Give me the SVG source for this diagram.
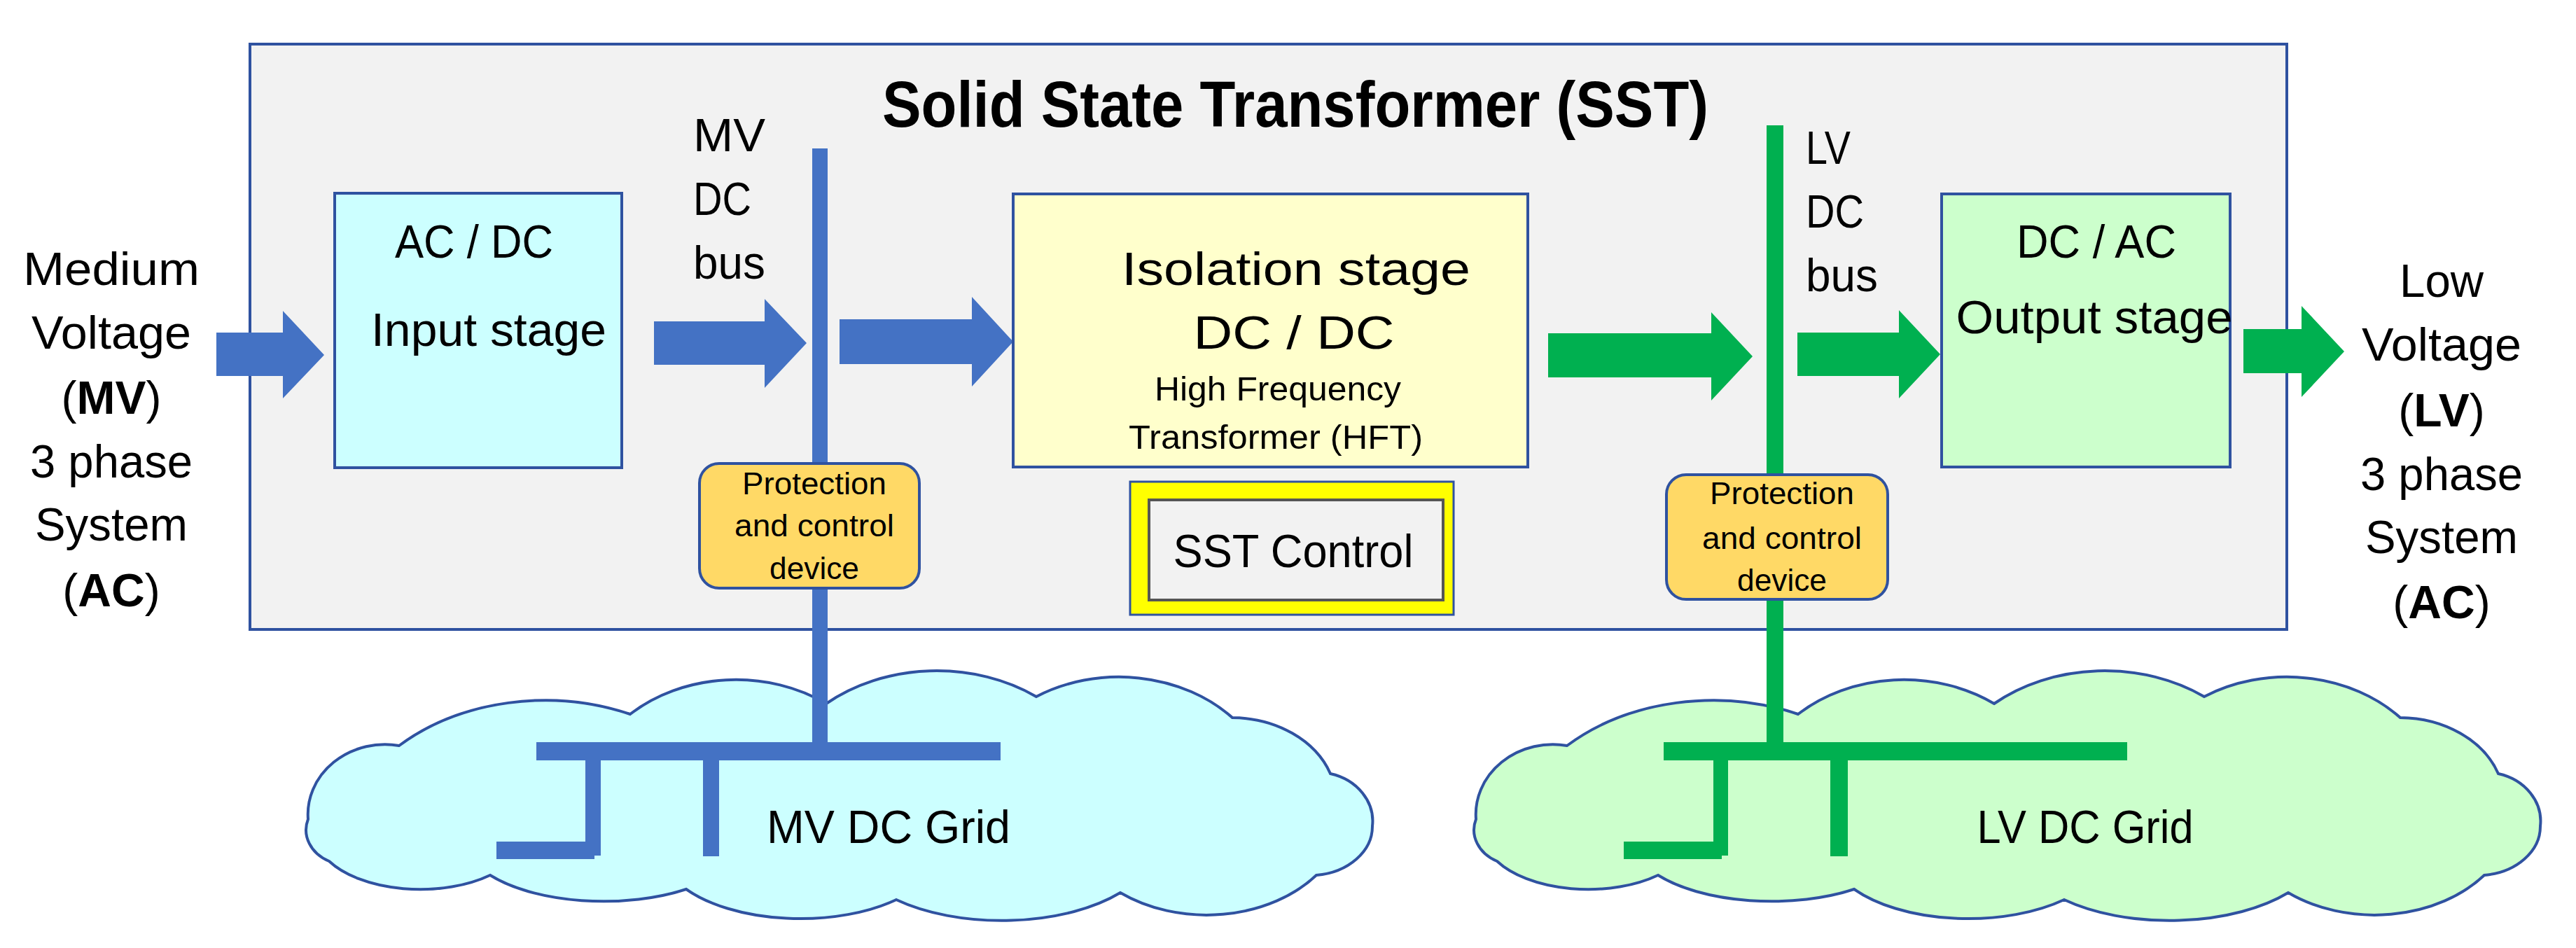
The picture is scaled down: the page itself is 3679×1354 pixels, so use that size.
<svg xmlns="http://www.w3.org/2000/svg" width="3679" height="1354" viewBox="0 0 3679 1354">
<style>
text{font-family:"Liberation Sans",Arial,sans-serif;fill:#000}
.m{font-size:66px;text-anchor:middle}
.s{font-size:48px;text-anchor:middle}
.p{font-size:44px;text-anchor:middle}
.box{stroke:#2f52a0;stroke-width:4}
.b{fill:#4472c4}
.g{fill:#00b050}
</style>
<defs>
<path id="cloud" d="M440,1170 A110,100 0 0 1 570,1065 A300,230 0 0 1 900,1020 A220,180 0 0 1 1180,1005 A240,190 0 0 1 1480,995 A220,180 0 0 1 1760,1025 A150,120 0 0 1 1900,1105 A80,70 0 0 1 1960,1180 A90,70 0 0 1 1880,1250 A200,150 0 0 1 1600,1275 A220,110 0 0 1 1280,1285 A200,100 0 0 1 980,1270 A200,90 0 0 1 700,1250 A150,80 0 0 1 470,1230 A60,50 0 0 1 440,1170 Z"/>
</defs>
<rect width="3679" height="1354" fill="#fff"/>
<g id="sst"><rect x="357" y="63" width="2909" height="836" fill="#f2f2f2" class="box"/>
<text x="1850" y="181" style="font-size:92px;font-weight:bold" text-anchor="middle" textLength="1180" lengthAdjust="spacingAndGlyphs">Solid State Transformer (SST)</text></g>
<g id="mv-cloud"><use href="#cloud" fill="#ccffff" class="box"/>
<text class="m" x="1269" y="1204" textLength="348" lengthAdjust="spacingAndGlyphs">MV DC Grid</text></g>
<g id="lv-cloud"><use href="#cloud" fill="#ccffcc" class="box" transform="translate(1668,0)"/>
<text class="m" x="2978" y="1204" textLength="309" lengthAdjust="spacingAndGlyphs">LV DC Grid</text></g>
<g id="connectors">
<path class="b" d="M309,475 H404 V444 L463,507 L404,569 V537 H309 Z"/>
<path class="b" d="M934,459 H1092 V427 L1152,490 L1092,554 V521 H934 Z"/>
<path class="b" d="M1199,456 H1388 V424 L1447,488 L1388,552 V520 H1199 Z"/>
<path class="g" d="M2211,476 H2444 V446 L2503,509 L2444,572 V539 H2211 Z"/>
<path class="g" d="M2567,475 H2712 V443 L2771,506 L2712,569 V537 H2567 Z"/>
<path class="g" d="M3204,470 H3287 V437 L3348,502 L3287,567 V533 H3204 Z"/>
<rect class="b" x="1160" y="212" width="22" height="860"/>
<rect class="b" x="766" y="1060" width="663" height="26"/>
<rect class="b" x="836" y="1060" width="22" height="162"/>
<rect class="b" x="709" y="1202" width="140" height="25"/>
<rect class="b" x="1004" y="1060" width="23" height="163"/>
<rect class="g" x="2523" y="179" width="24" height="893"/>
<rect class="g" x="2376" y="1060" width="662" height="26"/>
<rect class="g" x="2447" y="1060" width="21" height="162"/>
<rect class="g" x="2319" y="1202" width="140" height="25"/>
<rect class="g" x="2614" y="1060" width="25" height="163"/>
</g>
<g id="acdc"><rect x="478" y="276" width="410" height="392" fill="#ccffff" class="box"/>
<text class="m" x="677" y="368" textLength="226" lengthAdjust="spacingAndGlyphs">AC / DC</text>
<text class="m" x="698" y="494" textLength="336" lengthAdjust="spacingAndGlyphs">Input stage</text></g>
<g id="iso"><rect x="1447" y="277" width="735" height="390" fill="#ffffcc" class="box"/>
<text class="m" x="1851" y="407" textLength="498" lengthAdjust="spacingAndGlyphs">Isolation stage</text>
<text class="m" x="1848" y="498" textLength="287" lengthAdjust="spacingAndGlyphs">DC / DC</text>
<text class="s" x="1825" y="572" textLength="352" lengthAdjust="spacingAndGlyphs">High Frequency</text>
<text class="s" x="1822" y="641" textLength="420" lengthAdjust="spacingAndGlyphs">Transformer  (HFT)</text></g>
<g id="dcac"><rect x="2773" y="277" width="412" height="390" fill="#ccffcc" class="box"/>
<text class="m" x="2994" y="368" textLength="228" lengthAdjust="spacingAndGlyphs">DC / AC</text>
<text class="m" x="2991" y="476" textLength="395" lengthAdjust="spacingAndGlyphs">Output stage</text></g>
<g id="control"><rect x="1614" y="688" width="462" height="190" fill="#ffff00" stroke="#2f52a0" stroke-width="3"/>
<rect x="1641" y="714" width="420" height="143" fill="#f2f2f2" stroke="#555" stroke-width="4"/>
<text class="m" x="1847" y="810" textLength="343" lengthAdjust="spacingAndGlyphs">SST Control</text></g>
<g id="prot-mv"><rect x="999" y="662" width="314" height="178" rx="28" fill="#ffd966" class="box" stroke-width="3"/>
<text class="p" x="1163" y="706" textLength="206" lengthAdjust="spacingAndGlyphs">Protection</text>
<text class="p" x="1163" y="766" textLength="228" lengthAdjust="spacingAndGlyphs">and control</text>
<text class="p" x="1163" y="827" textLength="128" lengthAdjust="spacingAndGlyphs">device</text></g>
<g id="prot-lv"><rect x="2380" y="678" width="316" height="178" rx="28" fill="#ffd966" class="box" stroke-width="3"/>
<text class="p" x="2545" y="720" textLength="206" lengthAdjust="spacingAndGlyphs">Protection</text>
<text class="p" x="2545" y="784" textLength="228" lengthAdjust="spacingAndGlyphs">and control</text>
<text class="p" x="2545" y="844" textLength="128" lengthAdjust="spacingAndGlyphs">device</text></g>
<g id="labels">
<text x="990" y="216" style="font-size:66px" textLength="103" lengthAdjust="spacingAndGlyphs">MV</text>
<text x="990" y="307" style="font-size:66px" textLength="83" lengthAdjust="spacingAndGlyphs">DC</text>
<text x="990" y="398" style="font-size:66px" textLength="103" lengthAdjust="spacingAndGlyphs">bus</text>
<text x="2579" y="234" style="font-size:66px" textLength="64" lengthAdjust="spacingAndGlyphs">LV</text>
<text x="2579" y="325" style="font-size:66px" textLength="83" lengthAdjust="spacingAndGlyphs">DC</text>
<text x="2579" y="416" style="font-size:66px" textLength="103" lengthAdjust="spacingAndGlyphs">bus</text>
</g>
<g id="mv-label" class="m">
<text x="159" y="407" textLength="252" lengthAdjust="spacingAndGlyphs">Medium</text>
<text x="159" y="498" textLength="228" lengthAdjust="spacingAndGlyphs">Voltage</text>
<text x="159" y="591">(<tspan font-weight="bold">MV</tspan>)</text>
<text x="159" y="682" textLength="232" lengthAdjust="spacingAndGlyphs">3 phase</text>
<text x="159" y="772" textLength="218" lengthAdjust="spacingAndGlyphs">System</text>
<text x="159" y="866">(<tspan font-weight="bold">AC</tspan>)</text>
</g>
<g id="lv-label" class="m">
<text x="3487" y="424" textLength="120" lengthAdjust="spacingAndGlyphs">Low</text>
<text x="3487" y="515" textLength="228" lengthAdjust="spacingAndGlyphs">Voltage</text>
<text x="3487" y="609">(<tspan font-weight="bold">LV</tspan>)</text>
<text x="3487" y="700" textLength="232" lengthAdjust="spacingAndGlyphs">3 phase</text>
<text x="3487" y="790" textLength="218" lengthAdjust="spacingAndGlyphs">System</text>
<text x="3487" y="883">(<tspan font-weight="bold">AC</tspan>)</text>
</g>
</svg>
